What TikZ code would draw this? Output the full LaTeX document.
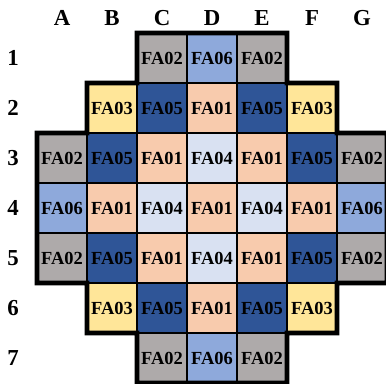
\documentclass[tikz,border=0pt]{standalone}
\usepackage{fontspec}
\setmainfont{Liberation Serif}
\usetikzlibrary{positioning}
\definecolor{FA01}{HTML}{F8CBAD}
\definecolor{FA02}{HTML}{AEAAAA}
\definecolor{FA03}{HTML}{FFE699}
\definecolor{FA04}{HTML}{D9E1F2}
\definecolor{FA05}{HTML}{2F5597}
\definecolor{FA06}{HTML}{8EA9DB}

\begin{document}
\begin{tikzpicture}[fa/.style={rectangle,draw,line width=1.1pt,minimum size=1cm,inner sep=0pt,outer sep=0pt,font=\fontsize{10.5}{11}\selectfont\bfseries},
  lab/.style={font=\fontsize{13}{15}\selectfont\bfseries}]
  \useasboundingbox (0,0) rectangle (7.72,-7.66);

  \foreach \r/\row in {1/{C/3/FA02,D/4/FA06,E/5/FA02},
      2/{B/2/FA03,C/3/FA05,D/4/FA01,E/5/FA05,F/6/FA03},
      3/{A/1/FA02,B/2/FA05,C/3/FA01,D/4/FA04,E/5/FA01,F/6/FA05,G/7/FA02},
      4/{A/1/FA06,B/2/FA01,C/3/FA04,D/4/FA01,E/5/FA04,F/6/FA01,G/7/FA06},
      5/{A/1/FA02,B/2/FA05,C/3/FA01,D/4/FA04,E/5/FA01,F/6/FA05,G/7/FA02},
      6/{B/2/FA03,C/3/FA05,D/4/FA01,E/5/FA05,F/6/FA03},
      7/{C/3/FA02,D/4/FA06,E/5/FA02}}
    \foreach \c/\i/\f in \row
      \node[fa,fill=\f] (\c\r) at (0.24+\i,-0.16-\r) {\f};

  % core outline
  \draw[line width=2.6pt] (C1.north west) -- (E1.north east) -- (E1.south east) -- (F2.north east)
    -- (F2.south east) -- (G3.north east) -- (G5.south east) -- (F6.north east) -- (F6.south east)
    -- (E7.north east) -- (E7.south east) -- (C7.south west) -- (C7.north west) -- (B6.south west)
    -- (B6.north west) -- (A5.south west) -- (A3.north west) -- (B2.south west) -- (B2.north west)
    -- (C1.south west) -- cycle;

  \foreach \c [count=\i] in {A,B,C,D,E,F,G}
    \node[lab] (col\c) at (0.24+\i,-0.36) {\c};
  \foreach \r in {1,...,7}
    \node[lab] (row\r) at (0.26,-0.16-\r) {\r};
\end{tikzpicture}
\end{document}
